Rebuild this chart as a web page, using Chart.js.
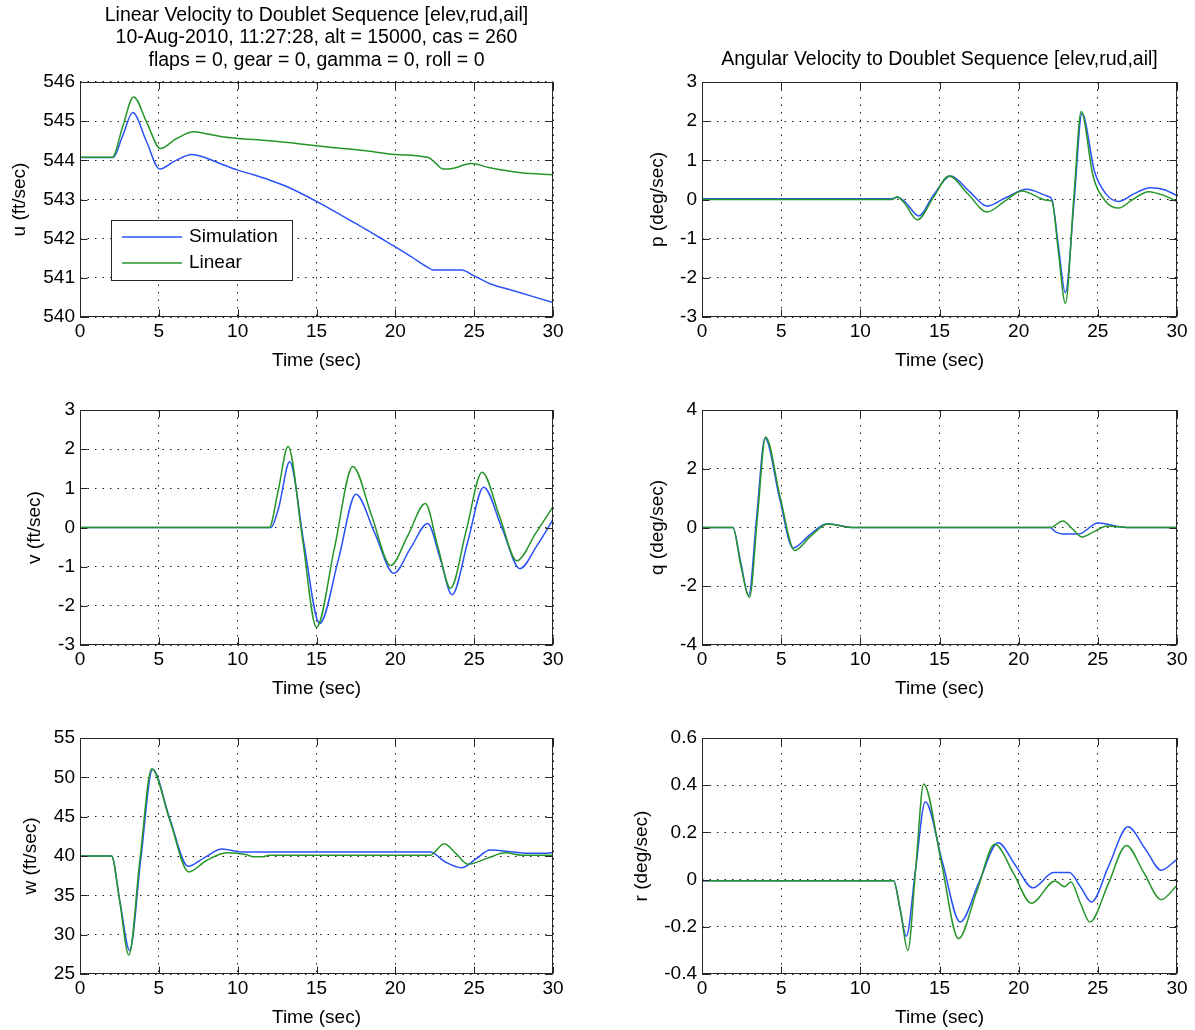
<!DOCTYPE html>
<html>
<head>
<meta charset="utf-8">
<script src="https://cdn.jsdelivr.net/npm/chart.js@4.4.0/dist/chart.umd.min.js"></script>
<style>
  html, body { margin: 0; padding: 0; background: #fff; }
  #fig { position: relative; width: 1195px; height: 1030px; overflow: hidden; background: #fff; }
  #fig canvas { position: absolute; }
</style>
</head>
<body>
<div id="fig">
  <canvas id="cu" width="600" height="373" style="left:0px;top:0px"></canvas>
  <canvas id="cp" width="595" height="373" style="left:600px;top:0px"></canvas>
  <canvas id="cv" width="600" height="311" style="left:0px;top:390px"></canvas>
  <canvas id="cq" width="595" height="311" style="left:600px;top:390px"></canvas>
  <canvas id="cw" width="600" height="312" style="left:0px;top:718px"></canvas>
  <canvas id="cr" width="595" height="312" style="left:600px;top:718px"></canvas>
</div>
<script>
// --- data (time in sec) ---
const uSimT = [0, 2.1, 2.7, 3.35, 4.2, 5.05, 6.0, 7.1, 8, 9, 10, 11, 12, 13, 14, 15, 16, 17, 18, 19, 20, 21, 22, 22.4, 24.2, 25, 26, 27.5, 30];
const uSim  = [544.07, 544.07, 544.62, 545.22, 544.5, 543.78, 543.98, 544.15, 544.06, 543.9, 543.75, 543.63, 543.5, 543.35, 543.16, 542.95, 542.73, 542.5, 542.27, 542.03, 541.79, 541.54, 541.28, 541.2, 541.2, 541.05, 540.85, 540.67, 540.37];
const uLinT = [0, 2.05, 2.7, 3.4, 4.25, 5.1, 6.1, 7.2, 8, 9, 10, 12, 14, 16, 18, 20, 22.1, 22.5, 23.0, 23.4, 24.8, 26, 28, 30];
const uLin  = [544.08, 544.08, 544.85, 545.62, 544.95, 544.3, 544.55, 544.73, 544.68, 544.6, 544.56, 544.5, 544.42, 544.33, 544.25, 544.15, 544.07, 543.95, 543.78, 543.78, 543.92, 543.81, 543.68, 543.63];

const pSimT = [0, 12.0, 12.35, 12.8, 13.7, 14.6, 15.7, 16.9, 18.0, 19.2, 20.5, 21.8, 22.1, 22.5, 22.95, 23.5, 24.0, 24.8, 25.5, 26.3, 27.3, 28.3, 29.2, 30];
const pSim  = [0.02, 0.02, 0.06, -0.05, -0.42, 0.1, 0.6, 0.2, -0.17, 0.05, 0.26, 0.09, 0.0, -1.15, -2.38, -0.05, 2.2, 0.7, 0.15, -0.05, 0.15, 0.3, 0.25, 0.1];
const pLinT = [0, 12.0, 12.3, 12.8, 13.6, 14.6, 15.6, 16.8, 18.0, 19.1, 20.2, 21.8, 22.1, 22.5, 22.95, 23.5, 23.95, 24.7, 25.5, 26.3, 27.2, 28.2, 29.2, 30];
const pLin  = [0.0, 0.0, 0.07, -0.1, -0.52, 0.04, 0.6, 0.14, -0.32, -0.05, 0.22, -0.02, -0.05, -1.3, -2.65, 0.15, 2.25, 0.6, -0.05, -0.22, 0.0, 0.2, 0.1, -0.05];

const vSimT = [0, 12.1, 12.6, 13.3, 14.2, 15.2, 16.4, 17.5, 18.7, 19.9, 21.0, 22.05, 22.85, 23.6, 24.6, 25.6, 26.75, 27.9, 29.0, 30];
const vSim  = [0, 0, 0.5, 1.68, -0.4, -2.45, -0.8, 0.85, -0.15, -1.17, -0.5, 0.1, -0.8, -1.72, -0.35, 1.03, 0.0, -1.05, -0.45, 0.2];
const vLinT = [0, 12.0, 12.55, 13.2, 14.1, 15.0, 16.15, 17.3, 18.5, 19.7, 20.8, 21.9, 22.7, 23.5, 24.5, 25.5, 26.6, 27.7, 28.9, 30];
const vLin  = [0, 0, 0.9, 2.07, -0.25, -2.55, -0.5, 1.56, 0.3, -0.97, -0.2, 0.61, -0.5, -1.55, -0.07, 1.41, 0.3, -0.85, -0.15, 0.53];

const qSimT = [0, 1.95, 2.45, 2.95, 3.45, 3.98, 4.9, 5.75, 6.8, 7.9, 9.5, 22, 22.3, 22.8, 23.8, 25.0, 26.5, 27, 30];
const qSim  = [0, 0, -1.2, -2.32, 0.35, 3.05, 1.0, -0.7, -0.25, 0.13, 0.0, 0.0, -0.14, -0.22, -0.22, 0.15, 0.02, 0, 0];
const qLinT = [0, 1.95, 2.45, 3.0, 3.5, 4.02, 4.95, 5.85, 6.85, 7.95, 9.5, 22, 22.8, 23.4, 24.0, 24.8, 25.6, 27, 30];
const qLin  = [0, 0, -1.3, -2.38, 0.35, 3.08, 1.0, -0.78, -0.3, 0.12, 0.0, 0.0, 0.22, -0.05, -0.32, -0.13, 0.05, 0, 0];

const wSimT = [0, 2.0, 2.55, 3.15, 3.85, 4.6, 5.7, 6.85, 7.9, 9.0, 10.3, 22.2, 23.2, 24.2, 25.1, 26.0, 27.5, 28.3, 29.6, 30];
const wSim  = [40, 40, 34.0, 28.0, 39.5, 51.0, 44.7, 38.7, 39.8, 40.9, 40.5, 40.5, 39.2, 38.5, 39.6, 40.76, 40.5, 40.35, 40.35, 40.45];
const wLinT = [0, 2.0, 2.5, 3.1, 3.8, 4.55, 5.7, 6.9, 8.0, 9.3, 10.5, 11.0, 11.6, 12.0, 22.2, 23.1, 23.85, 24.6, 25.8, 27.0, 28.0, 30];
const wLin  = [40, 40, 34.5, 27.4, 39.5, 51.1, 44.5, 37.97, 39.4, 40.42, 40.2, 39.9, 39.9, 40.1, 40.1, 41.57, 40.3, 38.95, 39.7, 40.4, 40.1, 40.1];

const rSimT = [0, 12.1, 12.5, 12.9, 13.5, 14.1, 15.2, 16.3, 17.5, 18.7, 19.8, 20.9, 22.2, 23.2, 23.9, 24.6, 25.7, 26.9, 28.0, 29.0, 30];
const rSim  = [-0.005, -0.005, -0.12, -0.24, 0.05, 0.33, 0.07, -0.18, -0.01, 0.156, 0.06, -0.035, 0.03, 0.03, -0.03, -0.095, 0.06, 0.224, 0.13, 0.04, 0.086];
const rLinT = [0, 12.1, 12.55, 13.0, 13.5, 14.0, 15.1, 16.2, 17.35, 18.5, 19.65, 20.8, 22.3, 22.9, 23.3, 23.9, 24.5, 25.65, 26.8, 27.9, 29.0, 30];
const rLin  = [-0.005, -0.005, -0.14, -0.3, 0.05, 0.405, 0.08, -0.25, -0.05, 0.15, 0.03, -0.1, -0.006, -0.03, -0.01, -0.1, -0.18, -0.02, 0.145, 0.03, -0.085, -0.024];

const seriesNames = ['Simulation', 'Linear'];
const titleLeft = ['Linear Velocity to Doublet Sequence [elev,rud,ail]',
                   '10-Aug-2010, 11:27:28, alt = 15000, cas = 260',
                   'flaps = 0, gear = 0, gamma = 0, roll = 0'];
const titleRight = 'Angular Velocity to Doublet Sequence [elev,rud,ail]';

const FONT = '"Liberation Sans", Arial, Helvetica, sans-serif';
const BLUE = '#2a52f5';
const GREEN = '#27962a';
const AXIS = '#262626';

// box round the axes plus inward tick marks (MATLAB style)
const frame = {
  id: 'frame',
  afterDraw(chart) {
    const { ctx, chartArea: a, scales: { x, y } } = chart;
    const L = Math.round(a.left) + 0.5, R = Math.round(a.right) - 0.5;
    const T = Math.round(a.top) + 0.5, B = Math.round(a.bottom) - 0.5;
    ctx.save();
    ctx.setLineDash([]);
    ctx.strokeStyle = AXIS;
    ctx.lineWidth = 1;
    ctx.beginPath();
    x.ticks.forEach(t => {
      const px = Math.round(x.getPixelForValue(t.value)) + 0.5;
      ctx.moveTo(px, B); ctx.lineTo(px, B - 7);
      ctx.moveTo(px, T); ctx.lineTo(px, T + 7);
    });
    y.ticks.forEach(t => {
      const py = Math.round(y.getPixelForValue(t.value)) + 0.5;
      ctx.moveTo(L, py); ctx.lineTo(L + 7, py);
      ctx.moveTo(R, py); ctx.lineTo(R - 7, py);
    });
    ctx.stroke();
    ctx.strokeRect(L, T, R - L, B - T);
    ctx.restore();
  }
};

const legendBox = {
  id: 'legendBox',
  afterDraw(chart) {
    const { ctx, chartArea: a } = chart;
    const x0 = Math.round(a.left) + 31, y0 = Math.round(a.top) + 138, w = 181, h = 60;
    ctx.save();
    ctx.setLineDash([]);
    ctx.fillStyle = '#fff';
    ctx.fillRect(x0, y0, w, h);
    ctx.strokeStyle = AXIS;
    ctx.lineWidth = 1;
    ctx.strokeRect(x0 + 0.5, y0 + 0.5, w, h);
    ctx.font = '19px ' + FONT;
    ctx.textBaseline = 'middle';
    ctx.fillStyle = '#000';
    chart.data.datasets.forEach((ds, i) => {
      const yy = y0 + 17 + i * 26;
      ctx.strokeStyle = ds.borderColor;
      ctx.lineWidth = 1.5;
      ctx.beginPath(); ctx.moveTo(x0 + 11, yy); ctx.lineTo(x0 + 71, yy); ctx.stroke();
      ctx.fillText(ds.label, x0 + 78, yy);
    });
    ctx.restore();
  }
};

const pts = (t, v) => t.map((tt, i) => ({ x: tt, y: v[i] }));

function makeChart(c) {
  const plugins = [frame];
  if (c.legend) plugins.push(legendBox);
  return new Chart(document.getElementById(c.el), {
    type: 'line',
    data: {
      datasets: [
        { label: seriesNames[0], data: pts(c.simT, c.sim), borderColor: BLUE, borderWidth: 1.5, order: 2 },
        { label: seriesNames[1], data: pts(c.linT, c.lin), borderColor: GREEN, borderWidth: 1.5, order: 1 }
      ]
    },
    options: {
      responsive: false,
      animation: false,
      events: [],
      layout: { padding: { left: 0, right: c.padRight, top: c.padTop, bottom: 0 } },
      elements: {
        point: { radius: 0 },
        line: { cubicInterpolationMode: 'monotone', fill: false }
      },
      scales: {
        x: {
          type: 'linear', min: 0, max: 30,
          afterFit: s => { s.height = 56; },
          ticks: { stepSize: 5, color: '#000', padding: 3, maxRotation: 0, font: { family: FONT, size: 19 } },
          grid: { color: '#1a1a1a', lineWidth: 1, drawTicks: false },
          border: { display: false, dash: [1.5, 6] },
          title: { display: true, text: 'Time (sec)', color: '#000', font: { family: FONT, size: 19 }, padding: { top: 0, bottom: 0.6 } }
        },
        y: {
          type: 'linear', min: c.yMin, max: c.yMax,
          afterFit: s => { s.width = c.axisW; },
          ticks: { stepSize: c.yStep, color: '#000', padding: 5, font: { family: FONT, size: 19 } },
          grid: { color: '#1a1a1a', lineWidth: 1, drawTicks: false },
          border: { display: false, dash: [1.5, 6] },
          title: { display: true, text: c.yLabel, color: '#000', font: { family: FONT, size: 19 }, padding: { top: c.yLabelPad, bottom: 0 } }
        }
      },
      plugins: {
        legend: { display: false },
        tooltip: { enabled: false },
        title: c.title ? {
          display: true, text: c.title, fullSize: false, color: '#000',
          font: { family: FONT, size: 19.5, weight: 'normal', lineHeight: 22.5 / 19.5 },
          padding: c.titlePad
        } : { display: false }
      }
    },
    plugins: plugins
  });
}

makeChart({ el: 'cu', simT: uSimT, sim: uSim, linT: uLinT, lin: uLin, yMin: 540, yMax: 546, yStep: 1,
  yLabel: 'u (ft/sec)', yLabelPad: 8.6, axisW: 80, padRight: 47, padTop: 0, legend: true,
  title: titleLeft, titlePad: { top: 4, bottom: 10.5 } });
makeChart({ el: 'cp', simT: pSimT, sim: pSim, linT: pLinT, lin: pLin, yMin: -3, yMax: 3, yStep: 1,
  yLabel: 'p (deg/sec)', yLabelPad: 46.6, axisW: 102, padRight: 18, padTop: 0,
  title: titleRight, titlePad: { top: 48.75, bottom: 10.75 } });
makeChart({ el: 'cv', simT: vSimT, sim: vSim, linT: vLinT, lin: vLin, yMin: -3, yMax: 3, yStep: 1,
  yLabel: 'v (ft/sec)', yLabelPad: 23.6, axisW: 80, padRight: 47, padTop: 20 });
makeChart({ el: 'cq', simT: qSimT, sim: qSim, linT: qLinT, lin: qLin, yMin: -4, yMax: 4, yStep: 2,
  yLabel: 'q (deg/sec)', yLabelPad: 46.6, axisW: 102, padRight: 18, padTop: 20 });
makeChart({ el: 'cw', simT: wSimT, sim: wSim, linT: wLinT, lin: wLin, yMin: 25, yMax: 55, yStep: 5,
  yLabel: 'w (ft/sec)', yLabelPad: 19.6, axisW: 80, padRight: 47, padTop: 20 });
makeChart({ el: 'cr', simT: rSimT, sim: rSim, linT: rLinT, lin: rLin, yMin: -0.4, yMax: 0.6, yStep: 0.2,
  yLabel: 'r (deg/sec)', yLabelPad: 30.6, axisW: 102, padRight: 18, padTop: 20 });
</script>
</body>
</html>
